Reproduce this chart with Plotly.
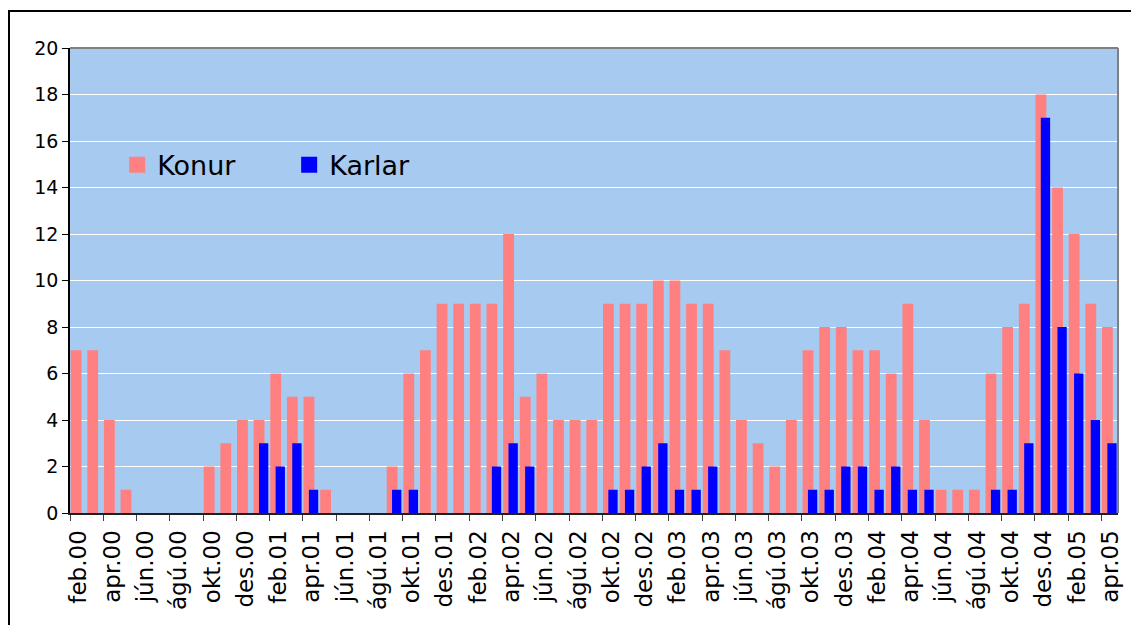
import plotly.graph_objects as go

months = [
    "feb.00", "mar.00", "apr.00", "maí.00", "jún.00", "júl.00", "ágú.00", "sep.00", "okt.00", "nóv.00", "des.00",
    "jan.01", "feb.01", "mar.01", "apr.01", "maí.01", "jún.01", "júl.01", "ágú.01", "sep.01", "okt.01", "nóv.01", "des.01",
    "jan.02", "feb.02", "mar.02", "apr.02", "maí.02", "jún.02", "júl.02", "ágú.02", "sep.02", "okt.02", "nóv.02", "des.02",
    "jan.03", "feb.03", "mar.03", "apr.03", "maí.03", "jún.03", "júl.03", "ágú.03", "sep.03", "okt.03", "nóv.03", "des.03",
    "jan.04", "feb.04", "mar.04", "apr.04", "maí.04", "jún.04", "júl.04", "ágú.04", "sep.04", "okt.04", "nóv.04", "des.04",
    "jan.05", "feb.05", "mar.05", "apr.05",
]

konur = [
    7, 7, 4, 1, 0, 0, 0, 0, 2, 3, 4,
    4, 6, 5, 5, 1, 0, 0, 0, 2, 6, 7, 9,
    9, 9, 9, 12, 5, 6, 4, 4, 4, 9, 9, 9,
    10, 10, 9, 9, 7, 4, 3, 2, 4, 7, 8, 8,
    7, 7, 6, 9, 4, 1, 1, 1, 6, 8, 9, 18,
    14, 12, 9, 8,
]

karlar = [
    0, 0, 0, 0, 0, 0, 0, 0, 0, 0, 0,
    3, 2, 3, 1, 0, 0, 0, 0, 1, 1, 0, 0,
    0, 0, 2, 3, 2, 0, 0, 0, 0, 1, 1, 2,
    3, 1, 1, 2, 0, 0, 0, 0, 0, 1, 1, 2,
    2, 1, 2, 1, 1, 0, 0, 0, 1, 1, 3, 17,
    8, 6, 4, 3,
]

tick_labels = months[::2]

y_ticks = list(range(0, 21, 2))

idx = list(range(len(months)))
tick_positions = [i - 0.5 for i in idx[::2]]

FONT = "DejaVu Sans, Verdana, sans-serif"
PINK = "#FF8080"
BLUE = "#0000FF"

# The page body has an 8px margin; the figure is sized so it fits the window.
W, H = 1131, 617
L, T = 62, 40
PW, PH = 1048, 465

fig = go.Figure()
fig.add_trace(go.Bar(
    x=idx, y=konur, name="Konur", legendgroup="konur", showlegend=False,
    marker=dict(color=PINK, line=dict(width=0)),
    offset=-0.46, width=0.65,
    customdata=months, hovertemplate="%{customdata}: %{y}<extra>Konur</extra>",
))
fig.add_trace(go.Bar(
    x=idx, y=karlar, name="Karlar", legendgroup="karlar", showlegend=False,
    marker=dict(color=BLUE, line=dict(width=0)),
    offset=-0.14, width=0.56,
    customdata=months, hovertemplate="%{customdata}: %{y}<extra>Karlar</extra>",
))
# legend entries (square swatches)
for nm, col, grp in [("Konur", PINK, "konur"), ("Karlar", BLUE, "karlar")]:
    fig.add_trace(go.Scatter(
        x=[None], y=[None], mode="markers", name=nm, legendgroup=grp,
        marker=dict(symbol="square", size=16, color=col, line=dict(width=0)),
        hoverinfo="skip",
    ))

fig.update_layout(
    width=W, height=H,
    autosize=False,
    margin=dict(l=L, r=W - L - PW, t=T, b=H - T - PH, pad=0, autoexpand=False),
    paper_bgcolor="white",
    plot_bgcolor="#A6CAF0",
    barmode="overlay",
    font=dict(family=FONT, color="black"),
    showlegend=True,
    legend=dict(
        orientation="h",
        x=0.045, y=0.748, xanchor="left", yanchor="middle",
        bgcolor="rgba(0,0,0,0)",
        font=dict(size=27, family=FONT, color="black"),
        entrywidth=127, entrywidthmode="pixels",
        itemsizing="trace",
    ),
    xaxis=dict(
        range=[-0.5, 62.5],
        automargin=False,
        tickmode="array",
        tickvals=tick_positions,
        ticktext=tick_labels,
        ticklabelshift=9,
        tickangle=-90,
        ticks="outside", ticklen=6, tickwidth=1, tickcolor="#404040",
        tickfont=dict(size=23, family=FONT, color="black"),
        showgrid=False,
        showline=True, linecolor="#202020", linewidth=2,
        zeroline=False,
        fixedrange=True,
    ),
    yaxis=dict(
        range=[0, 20],
        automargin=False,
        tickmode="array",
        tickvals=y_ticks,
        ticks="outside", ticklen=6, tickwidth=1, tickcolor="black",
        tickfont=dict(size=19, family=FONT, color="black"),
        showgrid=True, gridcolor="white", gridwidth=1,
        showline=True, linecolor="black", linewidth=1.5,
        zeroline=False,
        fixedrange=True,
    ),
    shapes=[
        # plot-area border, top and right (gray)
        dict(type="line", xref="paper", yref="paper", x0=0, x1=1, y0=1, y1=1,
             line=dict(color="#808080", width=2), layer="above"),
        dict(type="line", xref="paper", yref="paper", x0=1, x1=1, y0=0, y1=1,
             line=dict(color="#808080", width=2), layer="above"),
        # chart frame: top and left edges (the others lie past the window)
        dict(type="line", xref="paper", yref="paper",
             x0=(1 - L) / PW, x1=(W + 20 - L) / PW,
             y0=1 + (T - 3) / PH, y1=1 + (T - 3) / PH,
             line=dict(color="black", width=2), layer="above"),
        dict(type="line", xref="paper", yref="paper",
             x0=(1 - L) / PW, x1=(1 - L) / PW,
             y0=1 + (T - 2) / PH, y1=-(H - T - PH + 20) / PH,
             line=dict(color="black", width=2), layer="above"),
    ],
)

fig.write_html("out.html")
